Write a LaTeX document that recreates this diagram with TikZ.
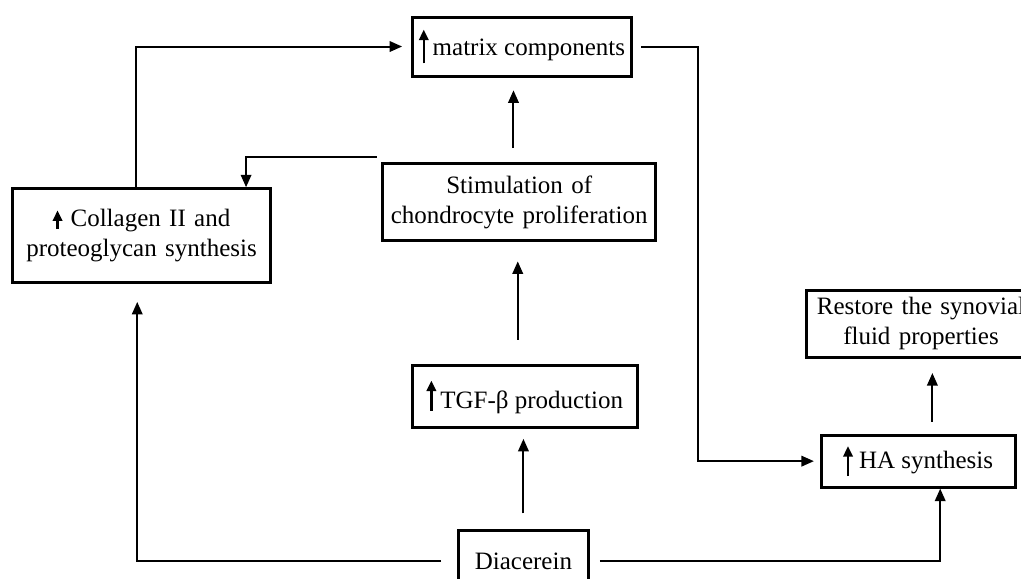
\documentclass[tikz,border=0pt]{standalone}
\usepackage{fontspec}
\setmainfont{Liberation Serif}
\usetikzlibrary{arrows.meta}
\tikzstyle{block} = [rectangle, 
draw=black, 
line width=1.2pt, 
text centered, 
inner sep=2pt]
\tikzstyle{arrow} = [line width=0.8pt,-{Triangle[length=5pt,width=4.2pt]}]
% small rising arrow put before a text
\newcommand{\uparr}[2]{\tikz[baseline=0pt]\draw[line width=0.9pt,-{Triangle[length=4.2pt,width=3.8pt]}] (0,#1) -- (0,#2);}

\begin{document}
\begin{tikzpicture}[node distance=2cm]

    \useasboundingbox (-7.34,0.654) rectangle (7.016,-7.487);

    \node (matrix) [block, minimum width=3.09cm, minimum height=0.83cm] {\uparr{-3pt}{10.5pt}\,matrix components};
    \node (stim) [block, below of=matrix, xshift=-0.04cm, yshift=-0.19cm, minimum width=3.77cm, minimum height=1.08cm, text width=3.7cm] {Stimulation of\\chondrocyte proliferation};
    \node (collagen) [block, left of=stim, xshift=-3.31cm, yshift=-0.47cm, minimum width=3.61cm, minimum height=1.32cm, text width=3.5cm] {\uparr{-1pt}{6.5pt} Collagen II and\\proteoglycan synthesis};
    \node (tgf) [block, below of=stim, xshift=0.08cm, yshift=-0.73cm, minimum width=3.16cm, minimum height=0.87cm] {\uparr{-1pt}{11pt}\,TGF-β production};
    \node (diac) [block, below of=tgf, xshift=-0.02cm, yshift=-0.32cm, minimum width=1.83cm, minimum height=0.87cm] {Diacerein};
    \node (ha) [block, right of=diac, xshift=3.55cm, yshift=1.41cm, minimum width=2.73cm, minimum height=0.73cm] {\uparr{-3pt}{9pt} HA synthesis};
    \node (restore) [block, above of=ha, xshift=0.04cm, yshift=-0.07cm, minimum width=3.23cm, minimum height=0.94cm, text width=3cm] {Restore the synovial\\fluid properties};

    \draw [arrow, shorten >=0.12cm] ([xshift=-0.08cm]collagen.north) |- (matrix.west);
    \draw [arrow] ([shift={(-0.06cm,0.07cm)}]stim.north west) -| ([xshift=1.47cm]collagen.north);
    \draw [arrow, shorten <=0.2cm, shorten >=0.18cm] ([xshift=-0.08cm]stim.north) -- ([xshift=-0.08cm]stim.north |- matrix.south);
    \draw [arrow, shorten <=0.34cm, shorten >=0.27cm] ([xshift=-0.1cm]tgf.north) -- ([xshift=-0.1cm]tgf.north |- stim.south);
    \draw [arrow, shorten <=0.22cm, shorten >=0.14cm] (diac.north) -- (diac.north |- tgf.south);
    \draw [arrow, shorten <=0.22cm, shorten >=0.25cm] (diac.west) -| ([xshift=-0.06cm]collagen.south);
    \draw [arrow, shorten <=0.14cm] (diac.east) -| ([xshift=0.31cm]ha.south);
    \draw [arrow, shorten <=0.11cm, shorten >=0.08cm] (matrix.east) -- ++(0.91cm,0) |- (ha.west);
    \draw [arrow, shorten <=0.17cm, shorten >=0.2cm] ([xshift=0.2cm]ha.north) -- ([xshift=0.2cm]ha.north |- restore.south);

  \end{tikzpicture}
\end{document}
